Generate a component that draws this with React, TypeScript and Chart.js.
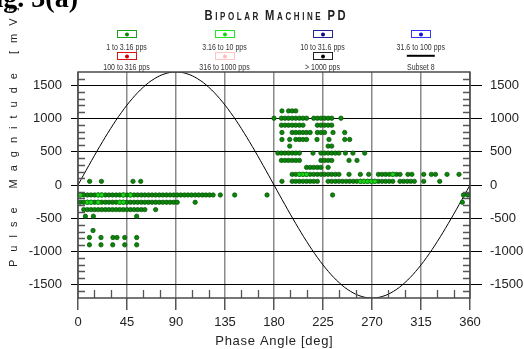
import React, { useEffect, useRef } from "react";
import { Chart, registerables } from "chart.js";
Chart.register(...registerables);

// ---------- axes ----------
const xTicks = [0, 45, 90, 135, 180, 225, 270, 315, 360];
const yTicks = [-1500, -1000, -500, 0, 500, 1000, 1500];
const xMinorTicks = [15, 30, 60, 75, 105, 120, 150, 165, 195, 210, 240, 255, 285, 300, 330, 345];
const yMinorTicks = [-1600, -1400, -1300, -1200, -1100, -900, -800, -700, -600, -400, -300, -200, -100,
  100, 200, 300, 400, 600, 700, 800, 900, 1100, 1200, 1300, 1400, 1600];

// ---------- legend / series ----------
const seriesLabels = ["1 to 3.16 pps", "3.16 to 10 pps", "10 to 31.6 pps", "31.6 to 100 pps",
  "100 to 316 pps", "316 to 1000 pps", "> 1000 pps", "Subset 8"];
const boxColors = ["#1f9f1f", "#1ee81e", "#22229a", "#3535f5", "#dd1111", "#ffc4c4", "#222222", "#000000"];
const dotColors = ["#0b860b", "#19d619", "#0b0b8a", "#1010e0", "#d40000", "#ffbcbc", "#000000", "#000000"];

// ---------- 1 to 3.16 pps (dark green) : magnitude rows [mV] and phase angles [deg] ----------
const rowValues = [1115, 1005, 900, 790, 685, 585, 480, 370, 265, 160, 55, -150, -260, -370, -470, -685, -790, -900];
const ph1115 = [187.3, 193.4, 196.7, 200.0];
const ph1005 = [180.0, 186.8, 190.1, 193.4, 196.7, 200.0, 203.3, 206.6, 209.9, 216.5, 219.8, 223.1, 226.4, 229.7, 233.0, 241.5];
const ph900 = [186.8, 190.1, 193.4, 196.7, 200.0, 203.3, 206.6, 219.8, 223.1, 226.4, 229.7, 233.0];
const ph790 = [187.3, 196.7, 200.0, 203.3, 206.6, 209.9, 213.2, 219.8, 223.1, 226.4, 234.2, 244.9];
const ph685 = [187.3, 194.4, 200.0, 203.3, 206.6, 209.9, 219.5, 230.5, 245.0, 249.5];
const ph585 = [194.4, 229.7, 233.0];
const ph480 = [183.5, 186.8, 190.1, 193.4, 196.7, 200.0, 203.3, 215.8, 223.1, 226.4, 229.7, 233.0, 236.3, 239.6, 245.6, 252.5, 263.3];
const ph370 = [186.8, 190.1, 193.4, 196.7, 200.0, 203.3, 223.1, 226.4, 229.7, 233.0, 248.9, 256.2];
const ph265 = [209.9, 213.2, 216.5, 219.8, 223.1, 229.7];
const ph160 = [196.7, 200.0, 203.3, 206.6, 209.9, 213.2, 216.5, 219.8, 223.1, 226.4, 229.7, 233.0, 236.3, 239.6,
  248.9, 259.3, 267.0, 275.9, 279.2, 282.5, 285.8, 289.1, 292.4, 295.7, 303.0, 306.6, 317.5, 324.5, 328.3, 338.9, 349.9];
const ph55 = [10.7, 21.5, 50.5, 57.6, 187.3, 196.7, 200.0, 203.3, 206.6, 209.9, 213.2, 216.5, 219.8,
  229.7, 233.0, 236.3, 239.6, 242.9, 246.2, 249.5, 252.8, 256.1, 259.4, 262.7, 266.0, 269.3, 272.6, 275.9, 279.2, 282.5, 285.8, 289.1,
  295.7, 299.0, 302.3, 305.6, 308.9, 317.5, 332.2];
const phM150 = [2.0, 5.3, 8.6, 11.9, 15.2, 18.5, 21.8, 25.1, 28.4, 31.7, 35.0, 38.3, 41.6, 44.9, 48.2, 51.5, 54.8, 58.1, 61.4, 64.7,
  68.0, 71.3, 74.6, 77.9, 81.2, 84.5, 87.8, 91.1, 94.4, 97.7, 101.0, 104.3, 107.6, 110.9, 114.2, 117.5, 120.8, 124.1,
  130.7, 143.9, 173.6, 233.8, 354.0, 358.0];
const phM260 = [2.0, 5.3, 8.6, 11.9, 15.2, 18.5, 21.8, 25.1, 28.4, 31.7, 35.0, 38.3, 41.6, 44.9, 48.2, 51.5, 54.8, 58.1, 61.4, 64.7,
  68.0, 71.3, 74.6, 77.9, 81.2, 84.5, 87.8, 91.1, 107.6, 353.0];
const phM370 = [5.3, 8.6, 11.9, 15.2, 18.5, 21.8, 25.1, 28.4, 31.7, 35.0, 38.3, 41.6, 44.9, 48.2, 51.5, 54.8, 58.1, 61.4, 71.3];
const phM470 = [6.8, 14.1, 53.9];
const phM685 = [13.8];
const phM790 = [10.5, 21.1, 32.1, 35.8, 42.9, 53.9];
const phM900 = [10.5, 21.1, 31.9, 42.9, 53.9];
const darkRows = [ph1115, ph1005, ph900, ph790, ph685, ph585, ph480, ph370, ph265, ph160, ph55,
  phM150, phM260, phM370, phM470, phM685, phM790, phM900];

// ---------- 3.16 to 10 pps (bright green) ----------
const brightValues = [160, 55, -150, -260];
const brightPh160 = [203.3, 206.6, 209.9, 289.1];
const brightPh55 = [259.4, 262.7, 266.0, 269.3, 272.6];
const brightPhM150 = [2.0, 18.5, 21.8, 41.6, 48.2];
const brightPhM260 = [8.6, 11.9, 18.5, 38.3, 41.6];
const brightRows = [brightPh160, brightPh55, brightPhM150, brightPhM260];

// ---------- Subset 8 : reference sine ----------
const sineDeg = [0, 10, 20, 30, 40, 50, 60, 70, 80, 90, 100, 110, 120, 130, 140, 150, 160, 170, 180,
  190, 200, 210, 220, 230, 240, 250, 260, 270, 280, 290, 300, 310, 320, 330, 340, 350, 360];
const sineMv = [0, 295, 581, 850, 1093, 1302, 1472, 1597, 1674, 1700, 1674, 1597, 1472, 1302, 1093, 850, 581, 295, 0,
  -295, -581, -850, -1093, -1302, -1472, -1597, -1674, -1700, -1674, -1597, -1472, -1302, -1093, -850, -581, -295, 0];

const FONT = "'Liberation Sans', Arial, sans-serif";

function drawChars(ctx: CanvasRenderingContext2D, text: string, x: number, y: number, font: string,
  spacing: number, sx: number, align: string) {
  ctx.font = font;
  const chars = [...text];
  const widths = chars.map((c) => ctx.measureText(c).width * sx);
  const total = widths.reduce((a, b) => a + b, 0) + spacing * (chars.length - 1);
  let cx = align === "center" ? x - total / 2 : align === "right" ? x - total : x;
  ctx.textAlign = "left";
  chars.forEach((c, i) => {
    ctx.save();
    ctx.translate(cx, y);
    ctx.scale(sx, 1);
    ctx.fillText(c, 0, 0);
    ctx.restore();
    cx += widths[i] + spacing;
  });
}

function drawScaled(ctx: CanvasRenderingContext2D, text: string, x: number, y: number, font: string, sx: number) {
  ctx.save();
  ctx.font = font;
  ctx.textAlign = "center";
  ctx.translate(x, y);
  ctx.scale(sx, 1);
  ctx.fillText(text, 0, 0);
  ctx.restore();
}

const decorPlugin = {
  id: "decor",
  afterDraw(chart: any) {
    const ctx: CanvasRenderingContext2D = chart.ctx;
    const { left, right, top, bottom } = chart.chartArea;
    const xs = chart.scales.x;
    const ys = chart.scales.y;
    ctx.save();
    // minor ticks
    ctx.strokeStyle = "#555";
    ctx.lineWidth = 1.3;
    ctx.beginPath();
    yMinorTicks.forEach((v) => {
      const p = Math.round(ys.getPixelForValue(v)) + 0.5;
      ctx.moveTo(left, p); ctx.lineTo(left + 7, p);
      ctx.moveTo(right, p); ctx.lineTo(right - 7, p);
    });
    xMinorTicks.forEach((v) => {
      const p = Math.round(xs.getPixelForValue(v)) + 0.5;
      ctx.moveTo(p, bottom); ctx.lineTo(p, bottom - 8);
    });
    ctx.stroke();
    // frame
    ctx.strokeStyle = "#4a4a4a";
    ctx.lineWidth = 1.5;
    ctx.strokeRect(left, top, right - left, bottom - top);

    ctx.fillStyle = "#222";
    ctx.textBaseline = "alphabetic";
    // title, small caps
    const title = "BIPOLAR MACHINE PD";
    const sx = 0.8, gap = 2.6;
    const parts: { c: string; f: string; w: number }[] = [];
    title.split(" ").forEach((word, wi) => {
      if (wi > 0) parts.push({ c: " ", f: `bold 10px ${FONT}`, w: 1.5 });
      [...word].forEach((c, ci) => {
        const big = ci === 0 || word.length <= 2;
        const f = `bold ${big ? 14 : 10}px ${FONT}`;
        ctx.font = f;
        parts.push({ c, f, w: ctx.measureText(c).width * sx });
      });
    });
    const tw = parts.reduce((a, p) => a + p.w, 0) + gap * (parts.length - 1);
    let tx = 275 - tw / 2;
    parts.forEach((p) => {
      ctx.save();
      ctx.font = p.f;
      ctx.translate(tx, 20);
      ctx.scale(sx, 1);
      ctx.fillText(p.c, 0, 0);
      ctx.restore();
      tx += p.w + gap;
    });

    // legend
    const colX = [126.5, 224.5, 322.5, 420.8];
    const boxY = [34.3, 56.3];
    const labY = [49.8, 70.4];
    chart.data.datasets.forEach((ds: any, i: number) => {
      const col = i % 4, row = Math.floor(i / 4);
      const cx = colX[col];
      if (ds.showLine) {
        ctx.strokeStyle = boxColors[i];
        ctx.lineWidth = 2;
        ctx.beginPath();
        ctx.moveTo(cx - 14, boxY[row] - 0.5); ctx.lineTo(cx + 14, boxY[row] - 0.5);
        ctx.stroke();
      } else {
        ctx.strokeStyle = boxColors[i];
        ctx.lineWidth = 1;
        ctx.strokeRect(Math.round(cx - 10) + 0.5, Math.round(boxY[row] - 4) + 0.5, 19, 7);
        ctx.fillStyle = dotColors[i];
        ctx.beginPath();
        ctx.arc(Math.round(cx) , Math.round(boxY[row]) + 0.5, 2, 0, Math.PI * 2);
        ctx.fill();
      }
      ctx.fillStyle = "#333";
      drawScaled(ctx, ds.label, cx, labY[row], `9px ${FONT}`, 0.78);
    });

    // axis titles
    ctx.fillStyle = "#222";
    drawChars(ctx, "Phase Angle [deg]", (left + right) / 2, 344.5, `13px ${FONT}`, 0.7, 1, "center");
    ctx.save();
    ctx.translate(17, 267);
    ctx.rotate(-Math.PI / 2);
    drawChars(ctx, "Pulse Magnitude [mV]", 0, 0, `11px ${FONT}`, 8, 1, "left");
    ctx.restore();

    // figure caption (cropped at the top-left edge)
    ctx.fillStyle = "#000";
    ctx.font = "bold 28px 'Liberation Serif', 'Times New Roman', serif";
    ctx.textAlign = "right";
    ctx.fillText("Fig. 3(a)", 78, 7);
    ctx.restore();
  },
};

export default function App() {
  const ref = useRef<HTMLCanvasElement>(null);
  useEffect(() => {
    if (!ref.current) return;
    Chart.defaults.font.family = FONT;
    const toPts = (vals: number[], rows: number[][]) =>
      rows.flatMap((r, i) => r.map((p) => ({ x: p, y: vals[i] })));
    const empty = (i: number) => ({
      label: seriesLabels[i], data: [] as any[], backgroundColor: dotColors[i], borderColor: dotColors[i],
      pointRadius: 2.2, order: 3,
    });
    const datasets: any[] = [
      {
        label: seriesLabels[0], data: toPts(rowValues, darkRows), backgroundColor: "#0b860b", borderColor: "#045204",
        borderWidth: 0.7, pointRadius: 2.2, order: 2,
      },
      {
        label: seriesLabels[1], data: toPts(brightValues, brightRows), backgroundColor: "#19d619", borderColor: "#0b7a0b",
        borderWidth: 0.7, pointRadius: 2.2, order: 1,
      },
      empty(2), empty(3), empty(4), empty(5), empty(6),
      {
        label: seriesLabels[7], data: sineDeg.map((d, i) => ({ x: d, y: sineMv[i] })), showLine: true,
        borderColor: "#000", borderWidth: 1, pointRadius: 0, tension: 0.4, order: 10,
      },
    ];
    const yCommon = {
      type: "linear" as const, min: -1700, max: 1700,
      afterBuildTicks: (s: any) => { s.ticks = yTicks.map((v) => ({ value: v })); },
      border: { display: false },
    };
    const chart = new Chart(ref.current, {
      type: "scatter",
      data: { datasets },
      plugins: [decorPlugin],
      options: {
        animation: false,
        responsive: false,
        devicePixelRatio: 1,
        layout: { padding: { top: 72, left: 0, right: 0, bottom: 0 } },
        plugins: { legend: { display: false }, title: { display: false }, tooltip: { enabled: false } },
        scales: {
          x: {
            type: "linear", position: "bottom", min: 0, max: 360,
            afterBuildTicks: (s: any) => { s.ticks = xTicks.map((v) => ({ value: v })); },
            afterFit: (s: any) => { s.height = 51; },
            ticks: { color: "#222", font: { size: 13 }, padding: 5, maxRotation: 0, autoSkip: false, callback: (v: any) => String(v) },
            grid: { color: "#8a8a8a", lineWidth: 1.5, tickLength: 12, tickColor: "#555", tickWidth: 1.5 },
            border: { display: false },
          },
          y: {
            ...yCommon, position: "left",
            afterFit: (s: any) => { s.width = 78; },
            ticks: { color: "#222", font: { size: 13 }, padding: 9, callback: (v: any) => String(v) },
            grid: { color: "#000", lineWidth: 1, tickLength: 7 },
          },
          y2: {
            ...yCommon, position: "right",
            afterFit: (s: any) => { s.width = 54; },
            ticks: { color: "#222", font: { size: 13 }, padding: 8, callback: (v: any) => String(v) },
            grid: { color: "#000", lineWidth: 1, tickLength: 12, drawOnChartArea: false },
          },
        },
      } as any,
    });
    return () => chart.destroy();
  }, []);
  return (
    <div style={{ position: "fixed", left: 0, top: 0, width: 524, height: 349, background: "#fff" }}>
      <canvas ref={ref} width={524} height={349} style={{ display: "block" }} />
    </div>
  );
}
